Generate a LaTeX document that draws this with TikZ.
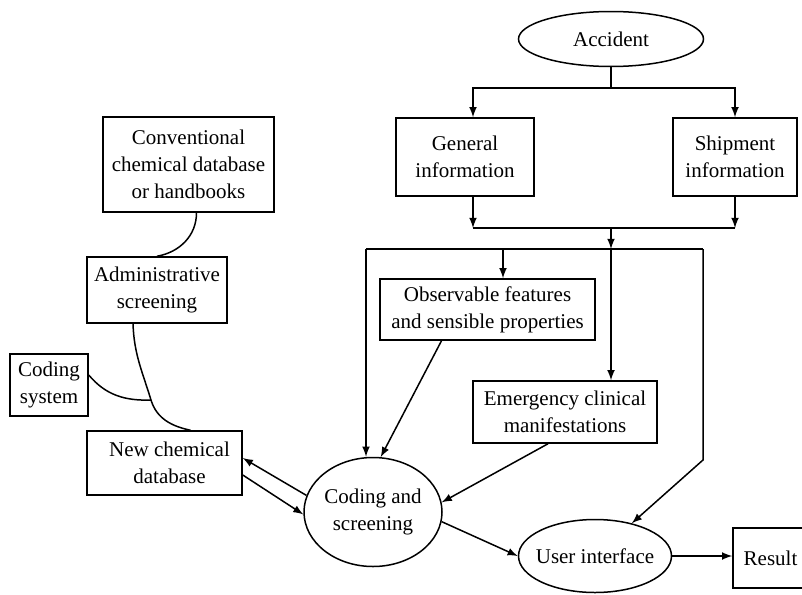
\documentclass[tikz,border=0pt]{standalone}
\usepackage{fontspec}
\setmainfont{Liberation Serif}
\usetikzlibrary{arrows,shapes.geometric}
\tikzset{
  box/.style={draw, inner sep=0pt, align=center, font=\fontsize{10.5}{13.5}\selectfont},
  oval/.style={ellipse, draw, inner sep=0pt, align=center, font=\fontsize{10.5}{13.5}\selectfont},
}

\begin{document}
\begin{tikzpicture}[x=0.5pt,y=-0.5pt,>=latex,line width=0.75pt]
      \useasboundingbox (0,0) rectangle (802,594);

      \node[oval,minimum width=92.5pt,minimum height=27.5pt] (acc) at (611,39) {Accident};
      \node[box,minimum width=69pt,minimum height=39pt] (gen) at (465,157) {General\\information};
      \node[box,minimum width=62pt,minimum height=39pt] (ship) at (735,157) {Shipment\\information};
      \node[box,minimum width=85.5pt,minimum height=47.5pt] (conv) at (188.5,164.5) {Conventional\\chemical database\\or handbooks};
      \node[box,minimum width=70pt,minimum height=33pt] (adm) at (157,290) {Administrative\\screening};
      \node[box,minimum width=39pt,minimum height=31pt] (codsys) at (49,385) {Coding\\system};
      \node[box,minimum width=77.5pt,minimum height=32pt] (newdb) at (164.5,463) {\hspace*{5pt}New chemical\\\hspace*{5pt}database};
      \node[box,minimum width=107.5pt,minimum height=30.5pt] (obs) at (487.5,309.5) {Observable features\\and sensible properties};
      \node[box,minimum width=92pt,minimum height=31pt] (emer) at (565,412) {Emergency clinical\\manifestations};
      \node[oval,minimum width=69pt,minimum height=54.5pt] (cod) at (373,512) {Coding and\\screening};
      \node[oval,inner xsep=-6pt,minimum width=76.5pt,minimum height=36.5pt] (ui) at (595,556) {User interface};
      \node[box,minimum width=37.5pt,minimum height=30pt] (res) at (770.5,558) {Result};

      % joints of the upper lines
      \coordinate (a1) at (611,88);
      \coordinate (g1) at (473,88);
      \coordinate (b2) at (611,228);
      \coordinate (b3) at (611,249);
      \coordinate (l3) at (366,249);
      \coordinate (o3) at (503,249);
      \coordinate (r3) at (703,249);
      \coordinate (r4) at (703,460);
      \coordinate (jn) at (151,400);

      \draw (acc) -- (a1);
      \draw[->] (a1) -- (g1) -- (g1 |- gen.north);
      \draw[->] (a1) -| (ship);
      \draw[->] (g1 |- gen.south) -- (g1 |- b2);
      \draw[->] (ship) -- (ship |- b2);
      \draw (g1 |- b2) -- (ship |- b2);
      \draw[->] (b2) -- (b3);
      \draw (l3) -- (r3);
      \draw[->] (l3) -- (l3 |- cod.north);
      \draw[->] (o3) -- (o3 |- obs.north);
      \draw[->] (b3) -- (b3 |- emer.north);
      \draw[->] (r3) -- (r4) -- (ui);

      \draw[->] ([xshift=-23pt]obs.south) -- (cod.82);
      \draw[->] ([xshift=-8.5pt]emer.south) -- (cod.8);
      \draw[->] (cod.-8) -- (ui.west);
      \draw[->] (ui) -- (ui -| res.west);
      \draw[->] (cod.166) -- ([yshift=2.5pt]newdb.east);
      \draw[->] ([yshift=-6pt]newdb.east) -- (cod.182);

      \draw ([xshift=4pt]conv.south) to[out=-90,in=10] (adm.north);
      \draw ([xshift=-12pt]adm.south) to[out=-88,in=107] (jn) to[out=-73,in=168] ([xshift=13pt]newdb.north);
      \draw ([yshift=5pt]codsys.east) to[out=-50,in=182] (jn);
    \end{tikzpicture}
\end{document}
